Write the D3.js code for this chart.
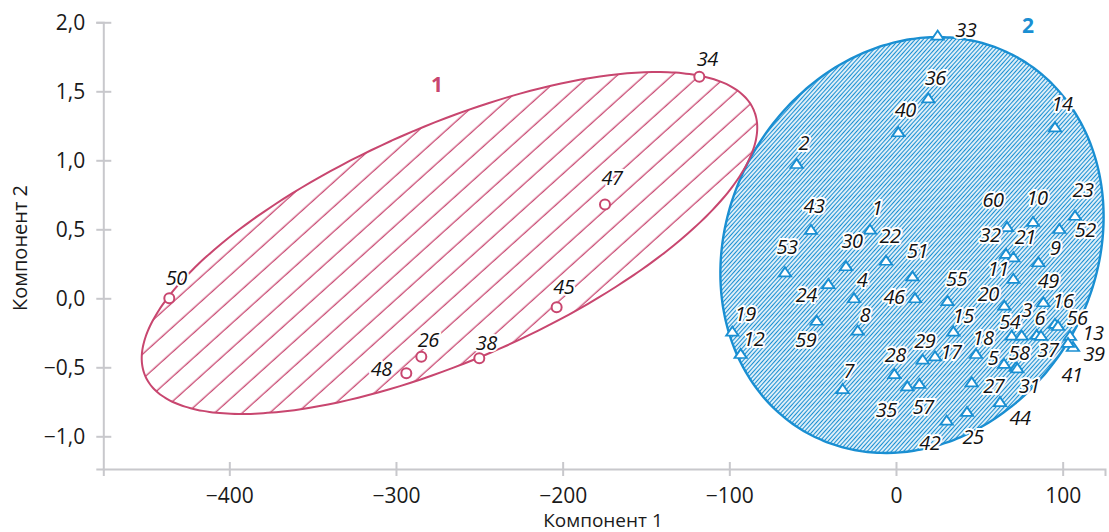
<!DOCTYPE html>
<html>
<head>
<meta charset="utf-8">
<script src="https://cdn.jsdelivr.net/npm/d3@7"></script>
<style>
  body { margin: 0; background: #fff; }
  svg { display: block; font-family: "Open Sans", "Noto Sans", sans-serif; }
</style>
</head>
<body>
<div id="chart"></div>
<script>
// cluster 1 (circles)
const ids1 = [50, 34, 47, 45, 38, 26, 48];
const comp1Group1 = [-436, -118, -174.6, -203.6, -250, -284.8, -293.8];
const comp2Group1 = [0.0, 1.606, 0.68, -0.065, -0.435, -0.423, -0.543];

// cluster 2 (triangles)
const ids2 = [33, 36, 40, 14, 2, 43, 1, 22, 30, 53, 51, 4, 24, 46, 55, 8, 19, 12, 59, 7,
  28, 35, 57, 29, 17, 15, 18, 5, 58, 31, 11, 60, 10, 32, 21, 23, 52, 9, 49, 16,
  56, 13, 39, 41, 20, 54, 3, 6, 37, 27, 44, 25, 42];
const comp1Group2 = [25.0, 19.4, 1.4, 95.4, -59.6, -51.0, -15.6, -6.0, -30.0, -66.6, 9.9, -25.2, -40.6, 11.4, 30.9, -23.0, -98.2, -93.2, -47.6, -32.0,
  -1.0, 6.8, 14.0, 16.0, 23.4, 34.4, 48.0, 64.8, 72.0, 72.8, 70.4, 66.6, 82.2, 66.0, 70.4, 107.4, 98.0, 85.4, 88.4, 95.4,
  97.2, 104.4, 106.2, 103.2, 65.0, 69.4, 75.4, 84.4, 87.0, 45.4, 62.4, 42.6, 30.4];
const comp2Group2 = [1.896, 1.442, 1.196, 1.232, 0.966, 0.488, 0.490, 0.265, 0.225, 0.181, 0.151, -0.007, 0.096, -0.007, -0.027, -0.242, -0.249, -0.411, -0.170, -0.665,
  -0.556, -0.645, -0.628, -0.452, -0.428, -0.248, -0.411, -0.483, -0.505, -0.515, 0.133, 0.509, 0.546, 0.314, 0.290, 0.591, 0.495, 0.254, -0.036, -0.193,
  -0.208, -0.280, -0.360, -0.331, -0.061, -0.278, -0.278, -0.273, -0.280, -0.616, -0.759, -0.831, -0.894];

// confidence ellipses: centre and two semi-axis vectors, data units
const ellipse1Center = [-267.9, 0.401];
const ellipse1AxisA = [182.5, 0.965];
const ellipse1AxisB = [28.1, -0.777];
const ellipse2Center = [9.6, 0.386];
const ellipse2AxisA = [63.4, 1.358];
const ellipse2AxisB = [95.9, -0.653];

const xTicks = [-400, -300, -200, -100, 0, 100];
const yTicks = [-1.0, -0.5, 0.0, 0.5, 1.0, 1.5, 2.0];

const pink = "#c8466f", blue = "#1a8fd2", axisGrey = "#c8c8cc";

// where each label sits relative to its marker (px)
const labelNudge = {
  34: [8, -18], 47: [7, -26], 38: [7, -15], 26: [7, -17], 48: [-25, -4],
  33: [28, -7], 36: [7, -21], 40: [7, -23], 14: [7, -24], 2: [7, -22], 43: [3, -25], 1: [7, -23],
  22: [4, -26], 30: [6, -26], 53: [2, -26], 51: [5, -26], 4: [8, -19], 24: [-22, 10], 46: [-21, -2],
  55: [9, -23], 8: [7, -17], 19: [13, -19], 12: [13, -16], 59: [-11, 18], 7: [6, -19], 28: [1, -20],
  35: [-21, 23], 57: [4, 22], 29: [2, -20], 17: [16, -5], 15: [10, -17], 18: [7, -17], 5: [-11, -7],
  58: [3, -15], 31: [12, 17], 11: [-15, -11], 60: [-14, -28], 10: [4, -25], 32: [-16, -20], 21: [12, -21],
  23: [8, -27], 52: [26, 0], 9: [17, -15], 49: [5, -22], 16: [8, -24], 56: [19, -9], 13: [23, -4],
  39: [21, 6], 41: [4, 31], 20: [-16, -13], 54: [-2, -15], 3: [5, -27], 6: [3, -18], 37: [7, 13],
  27: [22, 3], 44: [20, 15], 25: [6, 24], 42: [-17, 21]
};

const width = 1109, height = 532;
const svg = d3.select("#chart").append("svg")
  .attr("width", width).attr("height", height);

const x = d3.scaleLinear().domain([-475.6, 125.4]).range([103.3, 1105]);
const y = d3.scaleLinear().domain([-1.237, 2]).range([469, 22.3]);

const defs = svg.append("defs");
defs.append("pattern").attr("id", "hatchPink")
  .attr("patternUnits", "userSpaceOnUse")
  .attr("width", 18.4).attr("height", 18.4)
  .attr("patternTransform", "rotate(-42)")
  .call(p => {
    p.append("rect").attr("width", 18.4).attr("height", 18.4).attr("fill", "#fff");
    p.append("line").attr("x1", 0).attr("x2", 18.4).attr("y1", 9).attr("y2", 9)
      .attr("stroke", pink).attr("stroke-width", 1.3);
  });
defs.append("pattern").attr("id", "hatchBlue")
  .attr("patternUnits", "userSpaceOnUse")
  .attr("width", 3).attr("height", 3)
  .attr("patternTransform", "rotate(-48)")
  .call(p => {
    p.append("rect").attr("width", 3).attr("height", 3).attr("fill", "#fff");
    p.append("line").attr("x1", 0).attr("x2", 3).attr("y1", 1.5).attr("y2", 1.5)
      .attr("stroke", blue).attr("stroke-width", 1.3);
  });

function ellipsePoints(c, a, b) {
  return d3.range(0, 361, 2).map(deg => {
    const t = deg * Math.PI / 180;
    return [c[0] + a[0] * Math.cos(t) + b[0] * Math.sin(t),
            c[1] + a[1] * Math.cos(t) + b[1] * Math.sin(t)];
  });
}
const ellipseLine = d3.line()
  .x(d => x(d[0])).y(d => y(d[1]))
  .curve(d3.curveCardinalClosed);

const e1 = ellipsePoints(ellipse1Center, ellipse1AxisA, ellipse1AxisB);
const e2 = ellipsePoints(ellipse2Center, ellipse2AxisA, ellipse2AxisB);

svg.append("path").attr("d", ellipseLine(e2)).attr("fill", "url(#hatchBlue)");
svg.append("path").attr("d", ellipseLine(e1)).attr("fill", "url(#hatchPink)");
svg.append("path").attr("d", ellipseLine(e2)).attr("fill", "none")
  .attr("stroke", blue).attr("stroke-width", 2.4);
svg.append("path").attr("d", ellipseLine(e1)).attr("fill", "none")
  .attr("stroke", pink).attr("stroke-width", 2);

// axes
const fmtY = d => d3.format(".1f")(d).replace(".", ",").replace("-", "\u2212");
const fmtX = d => String(d).replace("-", "\u2212");

const xAxis = svg.append("g")
  .attr("transform", `translate(0,${y.range()[0]})`)
  .call(d3.axisBottom(x).tickValues(xTicks).tickFormat(fmtX).tickSizeOuter(0).tickSize(7).tickPadding(12));
const yAxis = svg.append("g")
  .attr("transform", `translate(${x.range()[0]},0)`)
  .call(d3.axisLeft(y).tickValues(yTicks).tickFormat(fmtY).tickSizeOuter(0).tickSize(7).tickPadding(11));

[xAxis, yAxis].forEach(g => {
  g.select(".domain").attr("stroke", axisGrey).attr("stroke-width", 2);
  g.selectAll(".tick line").attr("stroke", axisGrey).attr("stroke-width", 2);
  g.selectAll(".tick text").attr("fill", "#1a1a1a").style("font-size", "21px")
    .style("font-family", "'Open Sans', sans-serif");
});
xAxis.selectAll(".tick line").attr("y1", -7).attr("y2", 7);
yAxis.selectAll(".tick line").attr("x1", -7).attr("x2", 8);

svg.append("text").attr("x", 603).attr("y", 527)
  .attr("text-anchor", "middle").attr("fill", "#1a1a1a")
  .style("font-size", "19px").text("Компонент 1");
svg.append("text")
  .attr("transform", "translate(27,248) rotate(-90)")
  .attr("text-anchor", "middle").attr("fill", "#1a1a1a")
  .style("font-size", "20px").text("Компонент 2");

// cluster numbers
svg.append("text").attr("x", x(-275.4)).attr("y", y(1.546)).attr("dy", "0.35em")
  .attr("text-anchor", "middle").attr("fill", pink)
  .style("font-size", "21px").style("font-weight", "bold").text("1");
svg.append("text").attr("x", x(79.2)).attr("y", y(1.973)).attr("dy", "0.35em")
  .attr("text-anchor", "middle").attr("fill", blue)
  .style("font-size", "21px").style("font-weight", "bold").text("2");

const group1 = ids1.map((id, i) => ({ id, c1: comp1Group1[i], c2: comp2Group1[i] }));
const group2 = ids2.map((id, i) => ({ id, c1: comp1Group2[i], c2: comp2Group2[i] }));

// markers
svg.append("g").selectAll("path")
  .data(group2).enter().append("path")
  .attr("d", d3.symbol(d3.symbolTriangle, 52))
  .attr("transform", d => `translate(${x(d.c1)},${y(d.c2)}) scale(1.12,0.95)`)
  .attr("fill", "#fff").attr("stroke", blue).attr("stroke-width", 1.8);

svg.append("g").selectAll("circle")
  .data(group1).enter().append("circle")
  .attr("cx", d => x(d.c1)).attr("cy", d => y(d.c2)).attr("r", 5)
  .attr("fill", "#fff").attr("stroke", pink).attr("stroke-width", 2);

// point labels
svg.append("g").selectAll("text")
  .data(group1.concat(group2)).enter().append("text")
  .attr("x", d => x(d.c1) + (labelNudge[d.id] || [7, -20])[0])
  .attr("y", d => y(d.c2) + (labelNudge[d.id] || [7, -20])[1])
  .attr("dy", "0.35em")
  .attr("text-anchor", "middle")
  .style("font-size", "20px").style("font-style", "italic")
  .style("letter-spacing", "-0.5px")
  .attr("fill", "#111")
  .attr("stroke", "#fff").attr("stroke-width", 4).attr("stroke-linejoin", "round")
  .attr("paint-order", "stroke")
  .text(d => d.id);
</script>
</body>
</html>
